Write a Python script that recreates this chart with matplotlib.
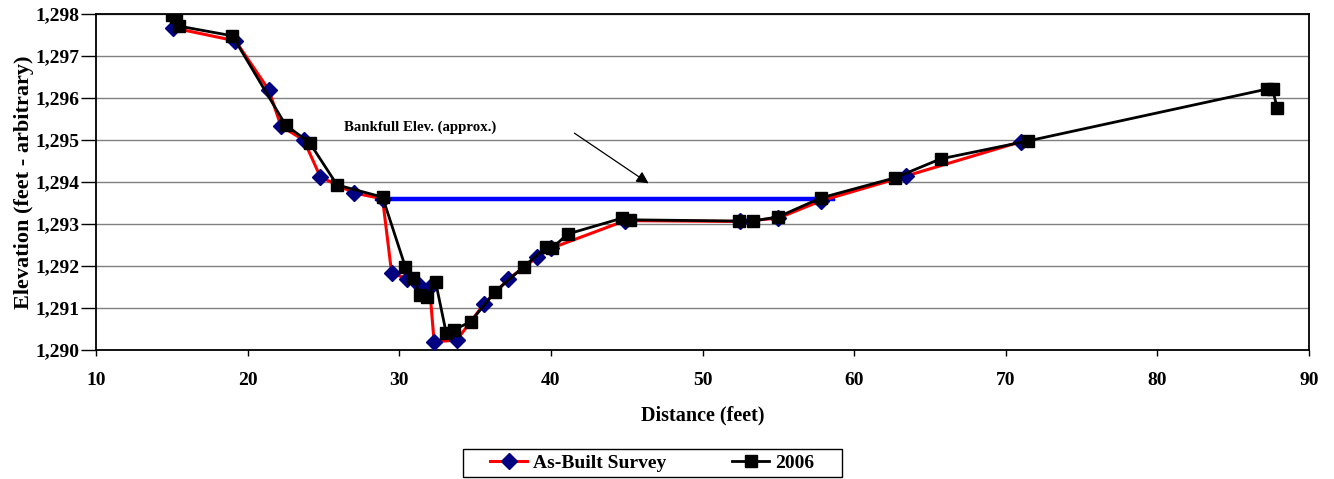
import matplotlib.pyplot as plt
from matplotlib.patches import Rectangle
from matplotlib.ticker import FuncFormatter

plt.rcParams['font.family'] = ['Liberation Serif', 'DejaVu Serif']
plt.rcParams['font.weight'] = 'bold'

# as-built survey (distance ft, elevation ft)
asbuilt_x = [15.1, 19.2, 21.4, 22.2, 23.7, 24.8, 27.0, 28.9, 29.5, 30.5, 31.3, 32.0,
             32.3, 33.8, 35.6, 37.2, 39.1, 40.0, 44.9, 52.5, 55.0, 57.8, 63.4, 71.0]
asbuilt_y = [1297.67, 1297.36, 1296.19, 1295.33, 1295.0, 1294.12, 1293.74, 1293.6,
             1291.83, 1291.7, 1291.55, 1291.5, 1290.19, 1290.24, 1291.1, 1291.69,
             1292.21, 1292.42, 1293.08, 1293.06, 1293.14, 1293.55, 1294.14, 1294.96]

# 2006 survey
s2006_x = [15.0, 15.3, 15.5, 19.0, 22.5, 24.1, 25.9, 28.9, 30.4, 30.9, 31.4, 31.8,
           32.4, 33.1, 33.6, 34.7, 36.3, 38.2, 39.7, 40.1, 41.1, 44.7, 45.2, 52.4,
           53.3, 55.0, 57.8, 62.7, 65.7, 71.5, 87.2, 87.6, 87.9]
s2006_y = [1297.98, 1297.93, 1297.71, 1297.48, 1295.36, 1294.93, 1293.93, 1293.64,
           1291.98, 1291.71, 1291.31, 1291.26, 1291.62, 1290.40, 1290.48, 1290.67,
           1291.38, 1291.98, 1292.45, 1292.43, 1292.76, 1293.14, 1293.10, 1293.07,
           1293.07, 1293.17, 1293.62, 1294.10, 1294.55, 1294.98, 1296.21, 1296.21,
           1295.76]

bankfull_x = [28.5, 58.6]
bankfull_elev = 1293.6

W, H = 1334, 479
fig = plt.figure(figsize=(W / 100, H / 100), dpi=100)
ax = fig.add_axes([96 / W, 1 - 350 / H, (1309 - 96) / W, 336 / H])

ax.plot(bankfull_x, [bankfull_elev, bankfull_elev], color='#0000FF', linewidth=3.2, zorder=2)
ax.plot(asbuilt_x, asbuilt_y, color='#FF0000', linewidth=2.2, marker='D',
        markersize=7.8, markerfacecolor='#000080', markeredgecolor='#000080',
        label='As-Built Survey', zorder=3)
ax.plot(s2006_x, s2006_y, color='black', linewidth=2.0, marker='s',
        markersize=9, markerfacecolor='black', markeredgecolor='black',
        label='2006', zorder=4)

ax.annotate('', xy=(46.6, 1293.93), xytext=(41.4, 1295.2),
            arrowprops=dict(arrowstyle='-|>', color='black', lw=0.9, mutation_scale=18))
ax.text(31.4, 1295.3, 'Bankfull Elev. (approx.)', fontsize=10.7, fontweight='bold',
        ha='center', va='center')

ax.set_xlim(10, 90)
ax.set_ylim(1290, 1298)
ax.set_xticks(range(10, 91, 10))
ax.set_yticks(range(1290, 1299))
ax.yaxis.set_major_formatter(FuncFormatter(lambda v, p: '{:,.0f}'.format(v)))
ax.grid(axis='y', color='#808080', linewidth=1.0)
ax.set_axisbelow(True)
ax.tick_params(labelsize=14, width=1, direction='out')
ax.tick_params(axis='x', length=4, pad=12)
ax.tick_params(axis='y', length=11, pad=1)
for sp in ax.spines.values():
    sp.set_linewidth(1.3)
    sp.set_color('black')

ax.set_xlabel('Distance (feet)', fontsize=14.5, fontweight='bold', labelpad=12)
ax.set_ylabel('Elevation (feet - arbitrary)', fontsize=16, fontweight='bold', labelpad=1)

leg = fig.legend(loc='center', bbox_to_anchor=(0.489, 0.034), ncol=2,
                 frameon=False, fontsize=14,
                 columnspacing=3.4, handlelength=1.9, handletextpad=0.3,
                 borderpad=0.2, borderaxespad=0)
fig.patches.append(Rectangle((463 / W, 1 - 477 / H), (842 - 463) / W, 28 / H,
                             transform=fig.transFigure, fill=False,
                             edgecolor='black', linewidth=1.0))

fig.savefig('out.png', dpi=100)
